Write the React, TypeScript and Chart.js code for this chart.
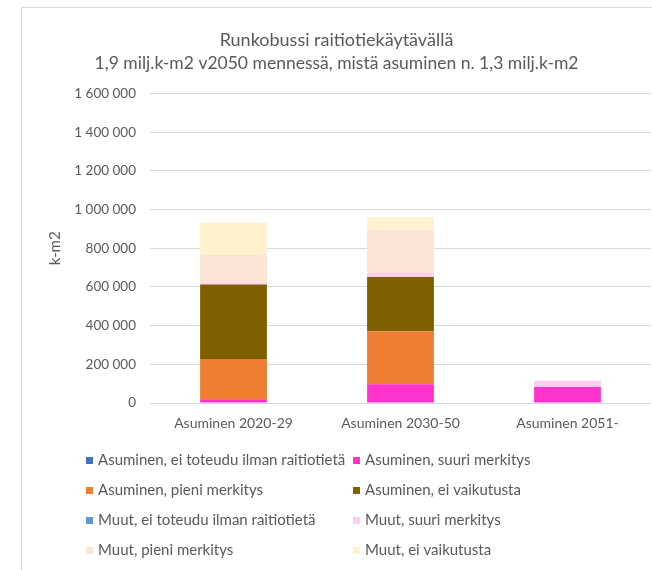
import React, { useEffect, useRef } from "react";
import { Chart, registerables } from "chart.js";

Chart.register(...registerables);

const titleText = "Runkobussi raitiotiekäytävällä";
const subtitleText = "1,9 milj.k-m2 v2050 mennessä, mistä asuminen n. 1,3 milj.k-m2";
const yAxisTitle = "k-m2";

const categories = ["Asuminen 2020-29", "Asuminen 2030-50", "Asuminen 2051-"];

const seriesNames = [
  "Asuminen, ei toteudu ilman raitiotietä",
  "Asuminen, suuri merkitys",
  "Asuminen, pieni merkitys",
  "Asuminen, ei vaikutusta",
  "Muut, ei toteudu ilman raitiotietä",
  "Muut, suuri merkitys",
  "Muut, pieni merkitys",
  "Muut, ei vaikutusta",
];

const asuminenEiToteudu = [0, 0, 0];
const asuminenSuuri = [20000, 97000, 83000];
const asuminenPieni = [208000, 274000, 0];
const asuminenEiVaikutusta = [385000, 280000, 0];
const muutEiToteudu = [0, 0, 0];
const muutSuuri = [10000, 21000, 32000];
const muutPieni = [144000, 224000, 0];
const muutEiVaikutusta = [165000, 64000, 0];

const seriesColors = [
  "#4472C4",
  "#FF33CC",
  "#ED7D31",
  "#7F6000",
  "#5B9BD5",
  "#FFCCF2",
  "#FBE5D6",
  "#FFF2CC",
];

const yMin = 0;
const yMax = 1600000;
const yStep = 200000;

const FONT = "Lato, 'Open Sans', sans-serif";
const TEXT = "#595959";

const frameAndLegend = {
  id: "frameAndLegend",
  beforeDraw(chart: any) {
    const ctx = chart.ctx;
    ctx.save();
    ctx.fillStyle = "#ffffff";
    ctx.fillRect(0, 0, chart.width, chart.height);
    ctx.strokeStyle = "#d9d9d9";
    ctx.lineWidth = 1;
    ctx.strokeRect(21.5, 7.5, 800, 800);
    ctx.restore();
  },
  afterDraw(chart: any) {
    const ctx = chart.ctx;
    ctx.save();
    ctx.font = `15px ${FONT}`;
    ctx.textBaseline = "middle";
    ctx.textAlign = "left";
    const colX = [86, 353];
    const rowY0 = 460.5;
    const rowGap = 30;
    chart.data.datasets.forEach((ds: any, i: number) => {
      const col = i % 2;
      const row = Math.floor(i / 2);
      const x = colX[col];
      const y = rowY0 + row * rowGap;
      ctx.fillStyle = ds.backgroundColor;
      ctx.fillRect(x, y - 3.5, 7, 7);
      ctx.fillStyle = TEXT;
      ctx.fillText(ds.label, x + 12, y);
    });
    ctx.restore();
  },
};

export default function App() {
  const ref = useRef<HTMLCanvasElement | null>(null);

  useEffect(() => {
    if (!ref.current) return;
    const values = [
      asuminenEiToteudu,
      asuminenSuuri,
      asuminenPieni,
      asuminenEiVaikutusta,
      muutEiToteudu,
      muutSuuri,
      muutPieni,
      muutEiVaikutusta,
    ];
    const chart = new Chart(ref.current, {
      type: "bar",
      data: {
        labels: categories,
        datasets: values.map((d, i) => ({
          label: seriesNames[i],
          data: d,
          backgroundColor: seriesColors[i],
          borderWidth: 0,
          barPercentage: 0.4,
          categoryPercentage: 1,
        })),
      },
      options: {
        responsive: false,
        animation: false,
        layout: { padding: { left: 22, right: 1, top: 7, bottom: 137 } },
        plugins: {
          legend: { display: false },
          tooltip: { enabled: false },
          title: {
            display: true,
            text: titleText,
            color: TEXT,
            font: { family: FONT, size: 18, weight: "normal", lineHeight: 1.2 },
            padding: { top: 22, bottom: 2 },
          },
          subtitle: {
            display: true,
            text: subtitleText,
            color: TEXT,
            font: { family: FONT, size: 17.5, weight: "normal", lineHeight: 1.2 },
            padding: { top: 0, bottom: 20 },
          },
        },
        scales: {
          x: {
            stacked: true,
            grid: { display: false, drawTicks: false },
            border: { display: false },
            ticks: {
              color: TEXT,
              font: { family: FONT, size: 14 },
              padding: 12,
              maxRotation: 0,
            },
            afterFit: (s: any) => {
              s.height = 30;
            },
          },
          y: {
            stacked: true,
            min: yMin,
            max: yMax,
            grid: { color: "#d9d9d9", drawTicks: false, lineWidth: 1 },
            border: { display: false },
            ticks: {
              stepSize: yStep,
              color: TEXT,
              font: { family: FONT, size: 13.5 },
              padding: 14,
              callback: (v: any) =>
                String(v).replace(/\B(?=(\d{3})+(?!\d))/g, " "),
            },
            title: {
              display: true,
              text: yAxisTitle,
              color: TEXT,
              font: { family: FONT, size: 15, lineHeight: 1.2 },
              padding: { top: 24, bottom: 0 },
            },
            afterFit: (s: any) => {
              s.width = 128;
            },
          },
        },
      },
      plugins: [frameAndLegend],
    });
    return () => chart.destroy();
  }, []);

  return (
    <div style={{ position: "absolute", left: 0, top: 0, width: 652, height: 570 }}>
      <canvas ref={ref} width={652} height={570} style={{ display: "block" }} />
    </div>
  );
}
